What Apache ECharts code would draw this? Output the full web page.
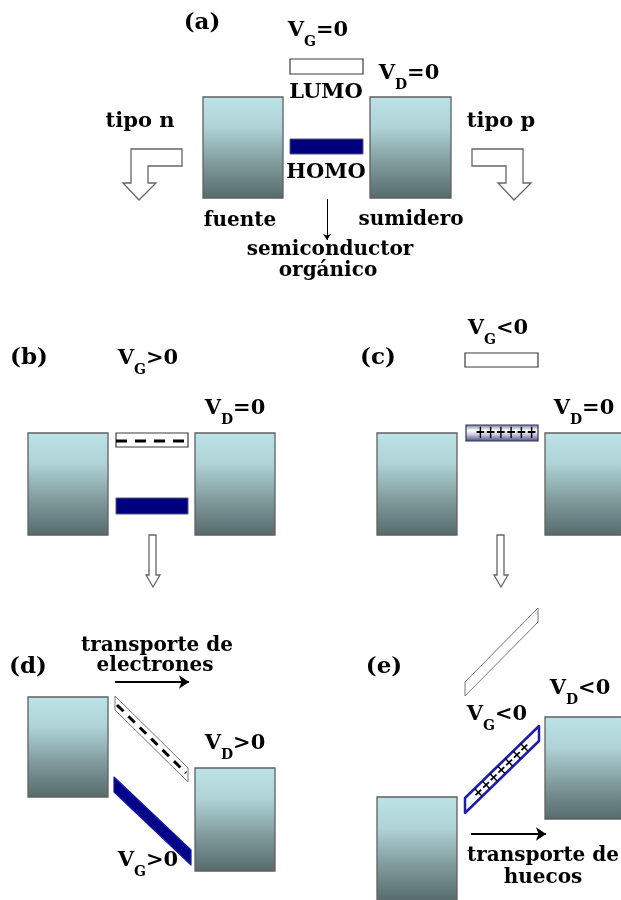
<!DOCTYPE html>
<html>
<head>
<meta charset="utf-8">
<script src="https://cdn.jsdelivr.net/npm/echarts@6/dist/echarts.min.js"></script>
<style>
  html, body { margin: 0; padding: 0; background: #ffffff; }
  #chart { width: 621px; height: 900px; }
</style>
</head>
<body>
<div id="chart"></div>
<script>
// ---- Diagram data (units = diagram pixels, y grows downward) ----

// Metal contacts (source / drain): [x0, y0, x1, y1]
const electrodes = [
  [203, 97, 283, 198], [370, 97, 451, 198],    // (a)
  [28, 433, 108, 535], [195, 433, 275, 535],   // (b)
  [377, 433, 457, 535], [545, 433, 625, 535],  // (c)
  [28, 697, 108, 797], [195, 768, 275, 871],   // (d)
  [377, 797, 457, 901], [545, 717, 625, 819]   // (e)
];

// Flat molecular levels: [x0, y0, x1, y1]
const emptyLevels = [[290, 59, 363, 74], [465, 353, 538, 367]];
const filledLevels = [[290, 139, 363, 154], [116, 498, 188, 514]];
const electronLevels = [[116, 433, 188, 447]];
const holeLevels = [[466, 425, 538, 441]];

// Tilted levels under drain bias: [xLeft, yLeftTop, xRight, yRightTop, thickness]
const tiltedElectronLevels = [[115, 696, 188, 768, 14]];
const tiltedFilledLevels = [[114, 777, 191, 850, 15]];
const tiltedEmptyLevels = [[465, 682, 538, 608, 14]];
const tiltedHoleLevels = [[465, 798, 539, 726, 15]];

// Hollow block arrows (outline polygons)
const hollowArrows = [
  [[131, 149], [182, 149], [182, 166], [148, 166], [148, 183], [156, 183], [139, 200], [123, 183], [131, 183]],
  [[472, 149], [523, 149], [523, 183], [531, 183], [514, 200], [498, 183], [506, 183], [506, 166], [472, 166]],
  [[149, 535], [156, 535], [156, 575], [160, 575], [153, 587], [146, 575], [149, 575]],
  [[497, 535], [504, 535], [504, 575], [508, 575], [501, 587], [494, 575], [497, 575]]
];

// Thin arrows
const pointerArrows = [[[327, 199], [327, 240]]];
const transportArrows = [[[115, 682], [189, 682]], [[471, 834], [546, 834]]];

// Panel tags
const panelLabels = ['(a)', '(b)', '(c)', '(d)', '(e)'];
const panelLabelPos = [[202, 23], [29, 358], [378, 358], [28, 667], [384, 667]];

// Bias labels: [subscript, relation]
const voltLabels = [
  ['G', '=0'], ['D', '=0'],
  ['G', '>0'], ['D', '=0'],
  ['G', '<0'], ['D', '=0'],
  ['D', '>0'], ['G', '>0'],
  ['D', '<0'], ['G', '<0']
];
const voltLabelPos = [
  [318, 35], [409, 78],
  [148, 363], [235, 413],
  [498, 333], [584, 413],
  [235, 748], [148, 865],
  [580, 693], [497, 719]
];

// Plain labels
const textLabels = ['LUMO', 'HOMO', 'tipo n', 'tipo p', 'fuente', 'sumidero',
  'semiconductor', 'orgánico', 'transporte de', 'electrones', 'transporte de', 'huecos'];
const textLabelPos = [[326, 93], [326, 173], [140, 122], [501, 122], [240, 221], [411, 220],
  [330, 250], [328, 271], [157, 646], [155, 666], [543, 856], [543, 878]];

// ---- Styling ----
const SERIF = '"DejaVu Serif", serif';
const labelSize = { 'LUMO': 21, 'HOMO': 21, 'tipo n': 21, 'tipo p': 21 };
const NAVY = '#00007f';

function metalFill() {
  return new echarts.graphic.LinearGradient(0, 0, 0, 1, [
    { offset: 0, color: '#bde3e6' },
    { offset: 0.3, color: '#afd3d6' },
    { offset: 0.65, color: '#819b9d' },
    { offset: 1, color: '#566a6b' }
  ]);
}
function holeFill() {
  return new echarts.graphic.LinearGradient(0, 0, 0, 1, [
    { offset: 0, color: '#6e6e9c' },
    { offset: 0.35, color: '#ffffff' },
    { offset: 0.6, color: '#c8c8dc' },
    { offset: 1, color: '#46467e' }
  ]);
}

function rectShape(api) {
  const p0 = api.coord([api.value(0), api.value(1)]);
  const p1 = api.coord([api.value(2), api.value(3)]);
  return { x: p0[0], y: p0[1], width: p1[0] - p0[0], height: p1[1] - p0[1] };
}
function tiltedPoints(api) {
  const xl = api.value(0), yl = api.value(1), xr = api.value(2), yr = api.value(3), t = api.value(4);
  return [api.coord([xl, yl]), api.coord([xr, yr]), api.coord([xr, yr + t]), api.coord([xl, yl + t])];
}
function tiltedAxis(api, inset) {
  const xl = api.value(0), yl = api.value(1), xr = api.value(2), yr = api.value(3), t = api.value(4);
  const f = inset / (xr - xl);
  const a = api.coord([xl + inset, yl + (yr - yl) * f + t / 2]);
  const b = api.coord([xr - inset, yr - (yr - yl) * f + t / 2]);
  return [a, b];
}
const plusStyle = (size) => ({
  fontFamily: '"DejaVu Sans", sans-serif', fontWeight: 'bold', fontSize: size,
  fill: '#000000', align: 'center', verticalAlign: 'middle'
});

const series = [
  {
    type: 'custom', coordinateSystem: 'cartesian2d', data: electrodes, z: 2,
    renderItem: (params, api) => ({
      type: 'rect', shape: rectShape(api),
      style: { fill: metalFill(), stroke: '#606060', lineWidth: 1.3 }
    })
  },
  {
    type: 'custom', coordinateSystem: 'cartesian2d', data: emptyLevels, z: 3,
    renderItem: (params, api) => ({
      type: 'rect', shape: rectShape(api),
      style: { fill: '#ffffff', stroke: '#3a3a3a', lineWidth: 1.2 }
    })
  },
  {
    type: 'custom', coordinateSystem: 'cartesian2d', data: filledLevels, z: 3,
    renderItem: (params, api) => ({
      type: 'rect', shape: rectShape(api),
      style: { fill: NAVY, stroke: '#555577', lineWidth: 1 }
    })
  },
  {
    type: 'custom', coordinateSystem: 'cartesian2d', data: electronLevels, z: 3,
    renderItem: (params, api) => {
      const s = rectShape(api);
      const ym = s.y + s.height / 2 + 1;
      return {
        type: 'group', children: [
          { type: 'rect', shape: s, style: { fill: '#ffffff', stroke: '#3a3a3a', lineWidth: 1.2 } },
          { type: 'line', shape: { x1: s.x, y1: ym, x2: s.x + s.width, y2: ym },
            style: { stroke: '#000000', lineWidth: 3, lineDash: [11, 8] } }
        ]
      };
    }
  },
  {
    type: 'custom', coordinateSystem: 'cartesian2d', data: holeLevels, z: 3,
    renderItem: (params, api) => {
      const s = rectShape(api);
      return {
        type: 'group', children: [
          { type: 'rect', shape: s, style: { fill: holeFill(), stroke: '#333355', lineWidth: 1.2 } },
          { type: 'text', x: s.x + s.width / 2 + 4, y: s.y + s.height / 2 + 1, scaleX: 0.72,
            style: Object.assign({ text: '++++++' }, plusStyle(17)) }
        ]
      };
    }
  },
  {
    type: 'custom', coordinateSystem: 'cartesian2d', data: tiltedElectronLevels, z: 3,
    renderItem: (params, api) => {
      const ax = tiltedAxis(api, 2);
      return {
        type: 'group', children: [
          { type: 'polygon', shape: { points: tiltedPoints(api) },
            style: { fill: '#ffffff', stroke: '#777777', lineWidth: 1 } },
          { type: 'line', shape: { x1: ax[0][0], y1: ax[0][1], x2: ax[1][0], y2: ax[1][1] },
            style: { stroke: '#000000', lineWidth: 3, lineDash: [9, 7] } }
        ]
      };
    }
  },
  {
    type: 'custom', coordinateSystem: 'cartesian2d', data: tiltedFilledLevels, z: 3,
    renderItem: (params, api) => ({
      type: 'polygon', shape: { points: tiltedPoints(api) },
      style: { fill: '#000088', stroke: '#1a1aa6', lineWidth: 1.2, lineJoin: 'round' }
    })
  },
  {
    type: 'custom', coordinateSystem: 'cartesian2d', data: tiltedEmptyLevels, z: 3,
    renderItem: (params, api) => ({
      type: 'polygon', shape: { points: tiltedPoints(api) },
      style: { fill: '#ffffff', stroke: '#777777', lineWidth: 1 }
    })
  },
  {
    type: 'custom', coordinateSystem: 'cartesian2d', data: tiltedHoleLevels, z: 3,
    renderItem: (params, api) => {
      const ax = tiltedAxis(api, 0);
      const cx = (ax[0][0] + ax[1][0]) / 2, cy = (ax[0][1] + ax[1][1]) / 2;
      const ang = Math.atan2(ax[0][1] - ax[1][1], ax[1][0] - ax[0][0]);
      return {
        type: 'group', children: [
          { type: 'polygon', shape: { points: tiltedPoints(api) },
            style: { fill: '#ffffff', stroke: '#1c1ca8', lineWidth: 2.5, lineJoin: 'round' } },
          { type: 'text', x: cx, y: cy + 1, rotation: ang, scaleX: 0.8,
            style: Object.assign({ text: '+++++++' }, plusStyle(16)) }
        ]
      };
    }
  },
  {
    type: 'custom', coordinateSystem: 'cartesian2d', data: hollowArrows.map(p => p[0]), z: 3,
    renderItem: (params, api) => ({
      type: 'polygon',
      shape: { points: hollowArrows[params.dataIndex].map(p => api.coord(p)) },
      style: { fill: '#ffffff', stroke: '#666666', lineWidth: 1.3 }
    })
  },
  {
    type: 'lines', coordinateSystem: 'cartesian2d', z: 4,
    data: pointerArrows.map(c => ({ coords: c })),
    symbol: ['none', 'arrow'], symbolSize: 6,
    lineStyle: { color: '#000000', width: 1, opacity: 1 }
  },
  {
    type: 'lines', coordinateSystem: 'cartesian2d', z: 4,
    data: transportArrows.map(c => ({ coords: c })),
    symbol: ['none', 'arrow'], symbolSize: 10,
    lineStyle: { color: '#000000', width: 2, opacity: 1 }
  },
  {
    type: 'custom', coordinateSystem: 'cartesian2d', data: panelLabelPos, z: 5,
    renderItem: (params, api) => {
      const p = api.coord([api.value(0), api.value(1)]);
      return { type: 'text', x: p[0], y: p[1],
        style: { text: panelLabels[params.dataIndex], fontFamily: SERIF, fontWeight: 'bold', fontSize: 23,
          fill: '#000000', align: 'center', verticalAlign: 'middle' } };
    }
  },
  {
    type: 'custom', coordinateSystem: 'cartesian2d', data: voltLabelPos, z: 5,
    renderItem: (params, api) => {
      const p = api.coord([api.value(0), api.value(1)]);
      const v = voltLabels[params.dataIndex];
      return { type: 'text', x: p[0], y: p[1],
        style: {
          text: '{m|V}{s|' + v[0] + '}{m|' + v[1] + '}',
          align: 'center', verticalAlign: 'middle',
          rich: {
            m: { fontFamily: SERIF, fontWeight: 'bold', fontSize: 21, fill: '#000000', verticalAlign: 'top' },
            s: { fontFamily: SERIF, fontWeight: 'bold', fontSize: 14, fill: '#000000', verticalAlign: 'top', padding: [15, 0, 0, 0] }
          }
        } };
    }
  },
  {
    type: 'custom', coordinateSystem: 'cartesian2d', data: textLabelPos, z: 5,
    renderItem: (params, api) => {
      const p = api.coord([api.value(0), api.value(1)]);
      const t = textLabels[params.dataIndex];
      return { type: 'text', x: p[0], y: p[1],
        style: { text: t, fontFamily: SERIF, fontWeight: 'bold', fontSize: labelSize[t] || 20,
          fill: '#000000', align: 'center', verticalAlign: 'middle' } };
    }
  }
];

const chart = echarts.init(document.getElementById('chart'), null, { renderer: 'canvas' });
chart.setOption({
  animation: false,
  backgroundColor: '#ffffff',
  grid: { left: 0, right: 0, top: 0, bottom: 0 },
  xAxis: { type: 'value', min: 0, max: 621, show: false },
  yAxis: { type: 'value', min: 0, max: 900, inverse: true, show: false },
  series: series
});
</script>
</body>
</html>
